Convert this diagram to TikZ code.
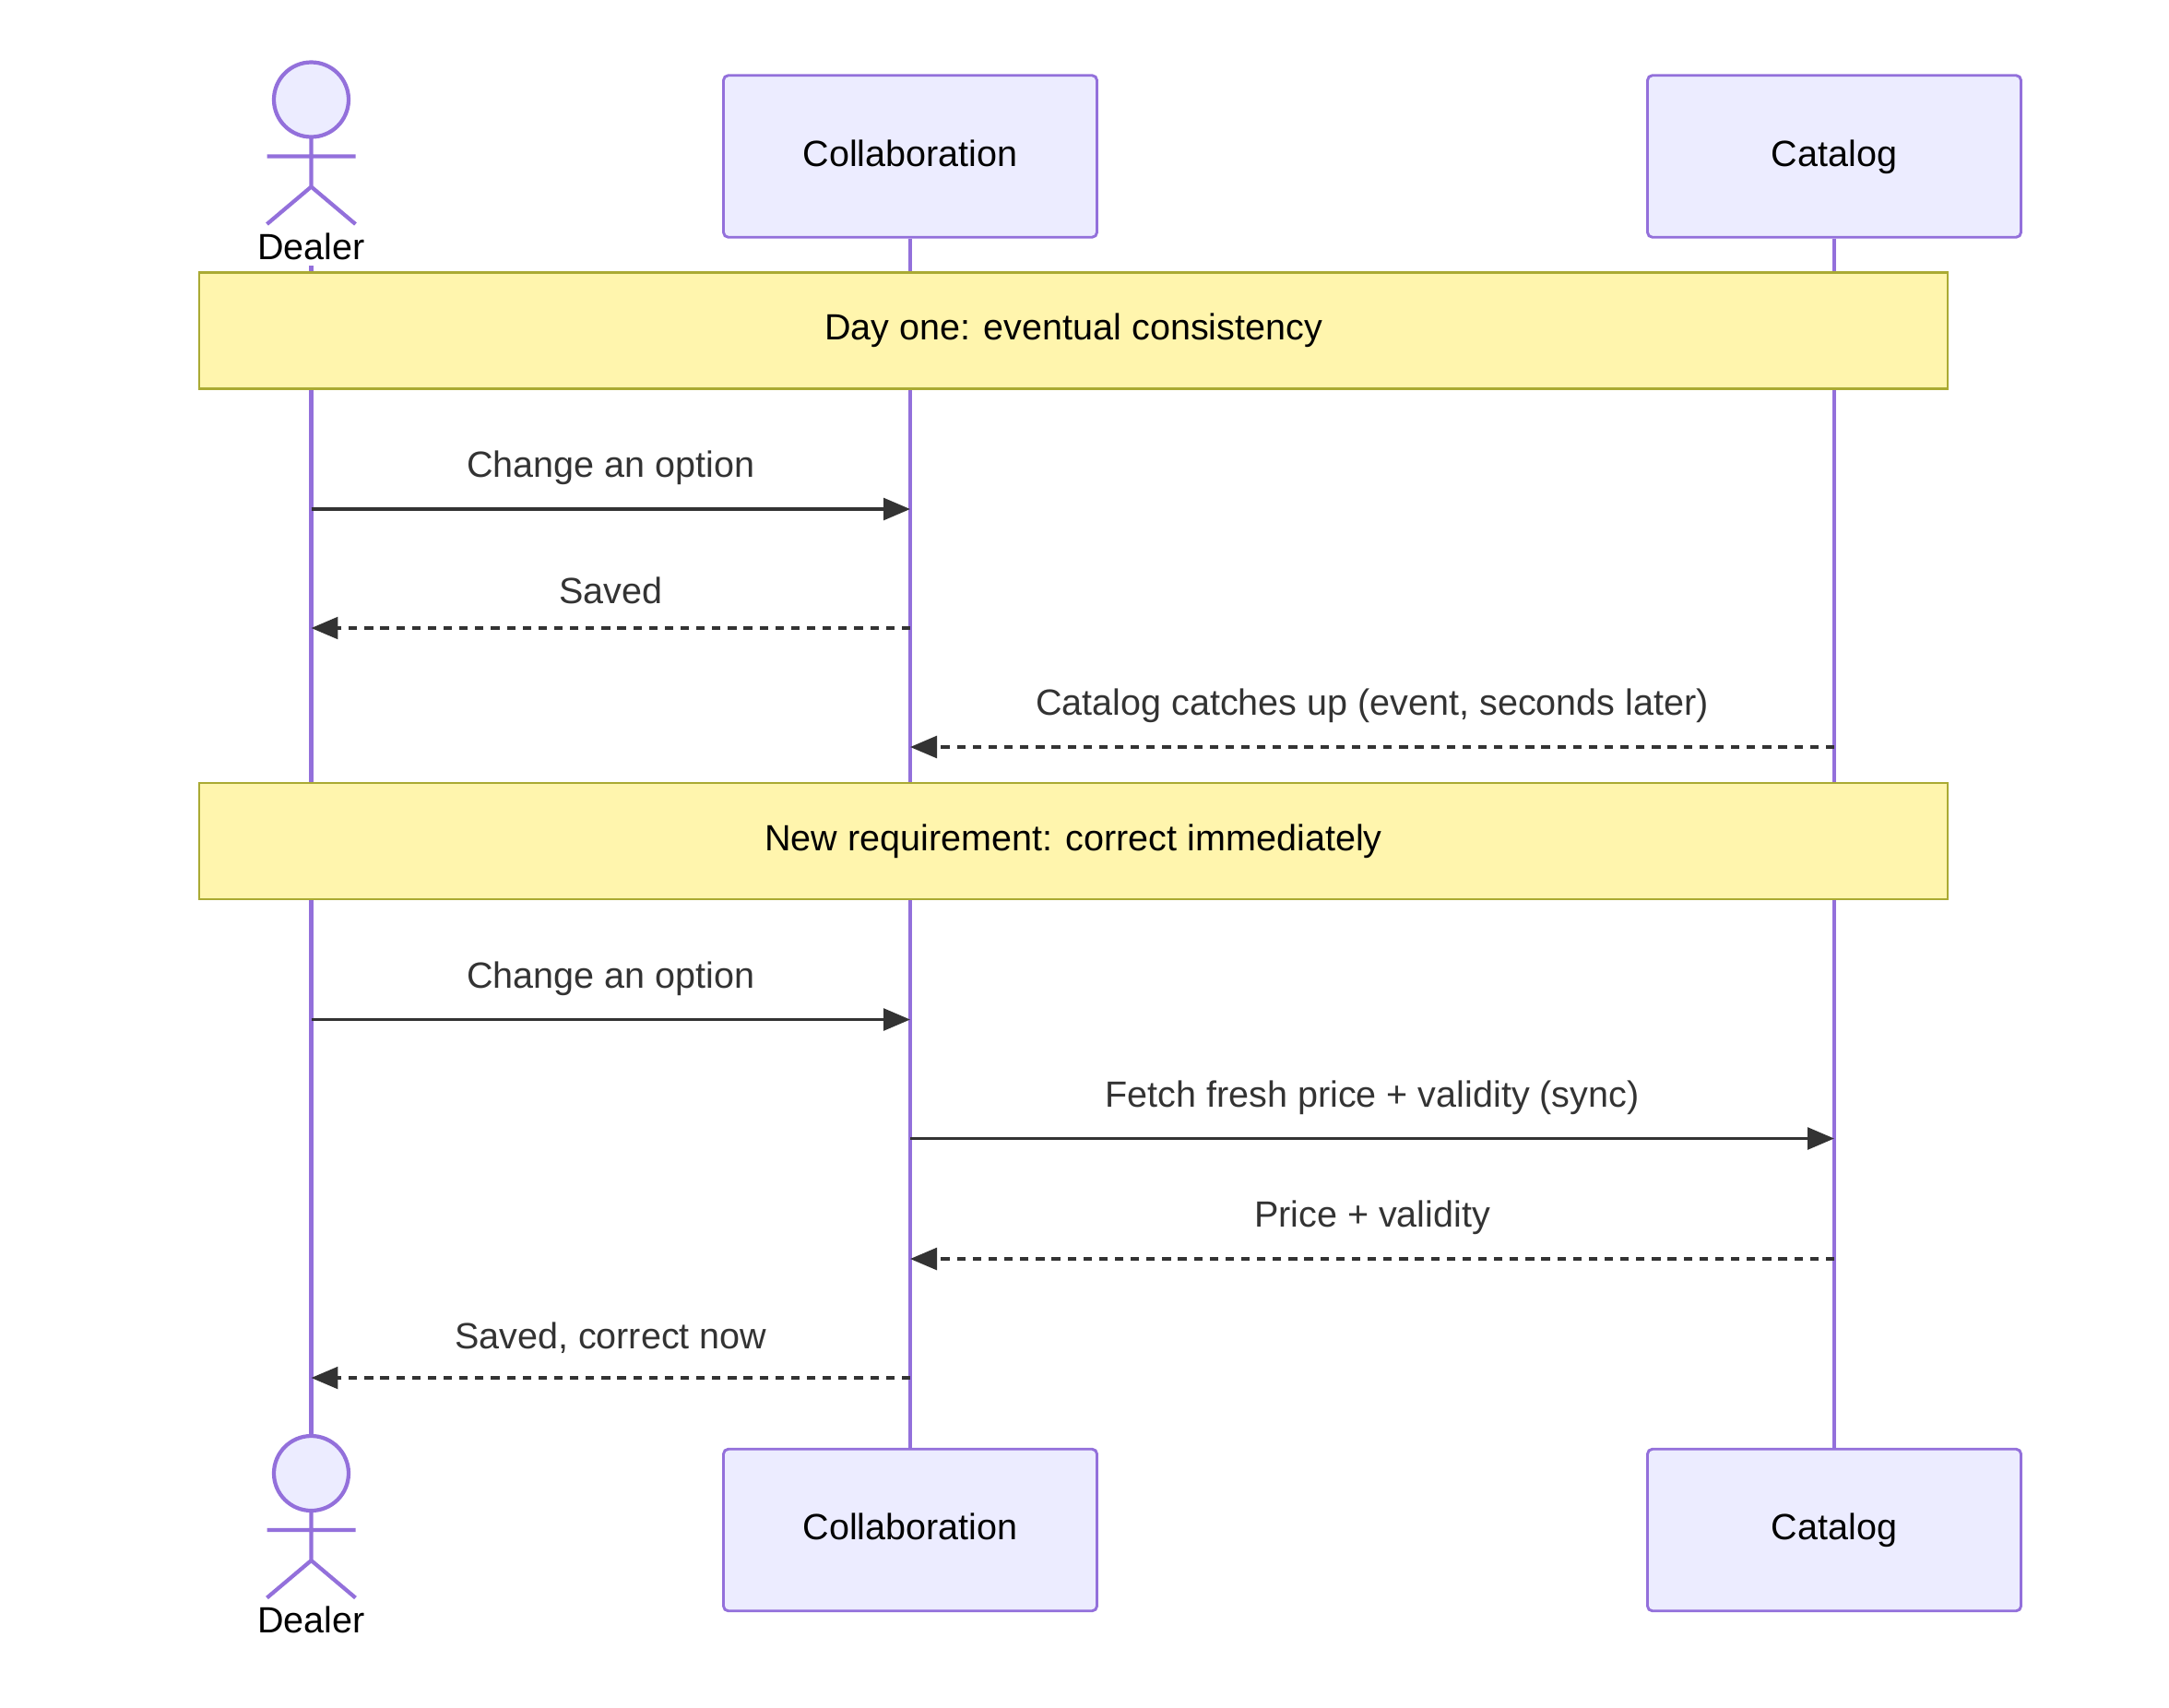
\documentclass[tikz,border=0pt]{standalone}
\usepackage{fontspec}
\setmainfont{Liberation Sans}
\usetikzlibrary{arrows.meta,positioning}
\definecolor{actfill}{HTML}{ECECFF}
\definecolor{actline}{HTML}{9370DB}
\definecolor{notefill}{HTML}{FFF5AD}
\definecolor{noteline}{HTML}{AAAA33}
\definecolor{msgline}{HTML}{333333}
\tikzset{
  part/.style={draw=actline, fill=actfill, line width=1.1pt, rounded corners=2pt,
               minimum width=270*0.02cm, minimum height=117*0.02cm,
               text height=11pt, text depth=3pt, font=\fontsize{15}{18}\selectfont},
  note/.style={draw=noteline, fill=notefill, line width=0.8pt,
               minimum width=1264*0.02cm, minimum height=84*0.02cm, font=\fontsize{15}{18}\selectfont},
  life/.style={draw=actline, line width=1.7pt},
  msg/.style={draw=msgline, line width=1.3pt, -{Triangle[length=11pt,width=9pt]}},
  reply/.style={msg, dash pattern=on 3.5pt off 3pt},
  lbl/.style={text=msgline, font=\fontsize{15}{18}\selectfont, above=6pt}
}
\begin{document}
\begin{tikzpicture}[x=0.02cm, y=-0.02cm]
  \useasboundingbox (0,0) rectangle (1568,1234);
  % participants
  \node[part] (C1) at (658,113) {Collaboration};
  \node[part] (K1) at (1326,113) {Catalog};
  \node[part] (C2) at (658,1106) {Collaboration};
  \node[part] (K2) at (1326,1106) {Catalog};
  \coordinate (D1) at (225,192);
  \coordinate (D2) at (225,1038);
  % lifelines
  \draw[life] (D1) -- (D2);
  \draw[life] (C1) -- (C2);
  \draw[life] (K1) -- (K2);
  \begin{scope}[draw=actline, line width=1.6pt]
  \foreach \y/\n in {72/DT, 1065/DB} {
    \draw[fill=actfill] (225,\y) circle (27);
    \draw (225,\y+27) -- (225,\y+63) (193,\y+41) -- (257,\y+41)
          (193,\y+90) -- (225,\y+63) -- (257,\y+90);
    \node[font=\fontsize{15}{18}\selectfont] (\n) at (225,\y+106) {Dealer};
  }
  \end{scope}
  % notes
  \node[note] (N1) at (776,239) {Day one: eventual consistency};
  \node[note] (N2) at (776,608) {New requirement: correct immediately};
  % message anchors
  \foreach \y [count=\i] in {368,454,540,737,823,910,996} {
    \coordinate (d\i) at (225,\y);
    \coordinate (c\i) at (658,\y);
    \coordinate (k\i) at (1326,\y);
  }
  \draw[msg] (d1) -- node[lbl] {Change an option} (c1);
  \draw[reply] (c2) -- node[lbl] {Saved} (d2);
  \draw[reply] (k3) -- node[lbl] {Catalog catches up (event, seconds later)} (c3);
  \draw[msg] (d4) -- node[lbl] {Change an option} (c4);
  \draw[msg] (c5) -- node[lbl] {Fetch fresh price + validity (sync)} (k5);
  \draw[reply] (k6) -- node[lbl] {Price + validity} (c6);
  \draw[reply] (c7) -- node[lbl] {Saved, correct now} (d7);
\end{tikzpicture}
\end{document}
